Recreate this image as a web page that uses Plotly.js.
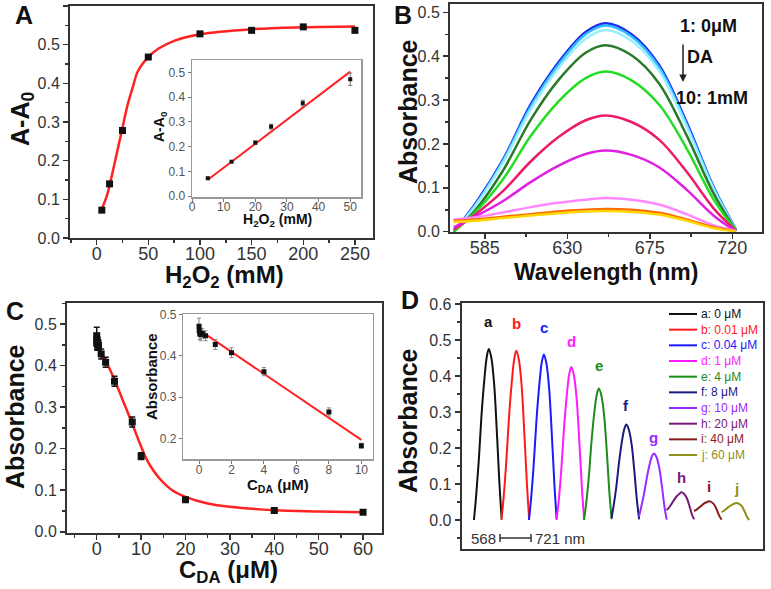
<!DOCTYPE html>
<html>
<head>
<meta charset="utf-8">
<script src="https://cdn.plot.ly/plotly-3.0.1.min.js"></script>
<style>
body{margin:0;background:#fff;}
#plot{width:771px;height:589px;}
</style>
</head>
<body>
<div id="plot"></div>
<script>
// ---- panel A : response vs H2O2 ----
var aX = [5, 12.5, 25, 50, 100, 150, 200, 250];
var aY = [0.072, 0.14, 0.278, 0.468, 0.528, 0.537, 0.546, 0.537];
var aErr = [0.004, 0.004, 0.005, 0.005, 0.004, 0.004, 0.004, 0.004];
var aFitX = [5, 10, 15, 20, 25, 30, 35, 40, 50, 60, 75, 100, 150, 200, 250];
var aFitY = [0.075, 0.11, 0.165, 0.225, 0.285, 0.345, 0.39, 0.432, 0.468, 0.49, 0.51, 0.527, 0.54, 0.545, 0.547];
var aInX = [5, 12.5, 20, 25, 35, 50];
var aInY = [0.072, 0.139, 0.216, 0.281, 0.376, 0.473];
var aInErr = [0.004, 0.004, 0.007, 0.01, 0.012, 0.025];
var aInFitX = [5, 50];
var aInFitY = [0.066, 0.504];

// ---- panel B / D : spectra ----
var wavelengths = [568, 580, 595, 610, 625, 640, 651, 665, 680, 695, 710, 722];
var spectra = [
	[0.0, 0.065, 0.165, 0.29, 0.385, 0.455, 0.475, 0.45, 0.38, 0.25, 0.1, 0.005],
	[0.0, 0.062, 0.162, 0.285, 0.38, 0.45, 0.47, 0.445, 0.375, 0.245, 0.098, 0.004],
	[0.0, 0.06, 0.158, 0.278, 0.372, 0.44, 0.46, 0.435, 0.367, 0.24, 0.095, 0.003],
	[0.0, 0.05, 0.14, 0.255, 0.345, 0.408, 0.425, 0.402, 0.338, 0.22, 0.085, 0.002],
	[0.0, 0.045, 0.12, 0.218, 0.296, 0.35, 0.365, 0.345, 0.29, 0.19, 0.072, 0.002],
	[0.005, 0.04, 0.093, 0.16, 0.215, 0.254, 0.265, 0.25, 0.21, 0.137, 0.052, 0.002],
	[0.01, 0.035, 0.07, 0.113, 0.15, 0.177, 0.185, 0.175, 0.147, 0.096, 0.036, 0.001],
	[0.028, 0.033, 0.044, 0.056, 0.066, 0.073, 0.077, 0.073, 0.062, 0.04, 0.014, 0.002],
	[0.025, 0.028, 0.034, 0.04, 0.046, 0.05, 0.052, 0.05, 0.043, 0.028, 0.01, 0.001],
	[0.022, 0.025, 0.031, 0.037, 0.042, 0.046, 0.047, 0.045, 0.039, 0.025, 0.008, 0.0]
];
var bColors = ['#1a2aee', '#33bbff', '#99eeff', '#2a7a2a', '#22dd22', '#ee1a6a', '#e020e0', '#ff88ff', '#ff6a00', '#ffd700'];
var dLetters = ['a', 'b', 'c', 'd', 'e', 'f', 'g', 'h', 'i', 'j'];
var dConc = ['0 μM', '0.01 μM', '0.04 μM', '1 μM', '4 μM', '8 μM', '10 μM', '20 μM', '40 μM', '60 μM'];
var dColors = ['#111111', '#ff1a1a', '#1a1aff', '#ff1aff', '#1a8c1a', '#1a1a80', '#9a2aff', '#7a1a7a', '#8a1a1a', '#8f8f1a'];

// ---- panel C : absorbance vs DA ----
var cX = [0, 0.01, 0.04, 0.1, 0.2, 0.4, 1, 2, 4, 8, 10, 20, 40, 60];
var cY = [0.472, 0.462, 0.455, 0.452, 0.455, 0.449, 0.428, 0.408, 0.362, 0.264, 0.182, 0.077, 0.051, 0.047];
var cErr = [0.02, 0.015, 0.015, 0.015, 0.012, 0.012, 0.012, 0.012, 0.012, 0.012, 0.008, 0.004, 0.003, 0.003];
var cFitX = [0, 1, 2, 3, 4, 5, 6, 7, 8, 9, 10, 11, 12, 14, 17, 20, 25, 30, 40, 50, 60];
var cFitY = [0.45, 0.432, 0.412, 0.39, 0.366, 0.34, 0.313, 0.287, 0.26, 0.232, 0.205, 0.18, 0.16, 0.13, 0.1, 0.084, 0.068, 0.06, 0.052, 0.049, 0.047];
var cInX = [0, 0.01, 0.04, 0.1, 0.2, 0.4, 1, 2, 4, 8, 10];
var cInY = [0.472, 0.462, 0.455, 0.452, 0.455, 0.449, 0.428, 0.408, 0.362, 0.264, 0.182];
var cInErr = [0.02, 0.015, 0.015, 0.015, 0.012, 0.012, 0.012, 0.012, 0.01, 0.01, 0.006];
var cInFitX = [0, 10];
var cInFitY = [0.4635, 0.196];

var W = 771;
var H = 589;
var FONT = 'Liberation Sans, Arial, sans-serif';

function px(x){ return x / W; }
function py(y){ return 1 - y / H; }

function frameAxis(domain, range, opts){
	var ax = {
		domain: domain,
		range: range,
		showline: true,
		mirror: true,
		linecolor: '#333',
		linewidth: 2,
		ticks: 'outside',
		ticklen: 5,
		tickwidth: 1.5,
		tickcolor: '#333',
		showgrid: false,
		zeroline: false,
		tickfont: {size: 16, color: '#333'}
	};
	for(var k in opts){
		ax[k] = opts[k];
	}
	return ax;
}

function insetAxis(domain, range, opts){
	var ax = frameAxis(domain, range, opts);
	ax.linecolor = '#999';
	ax.linewidth = 1.5;
	ax.tickcolor = '#777';
	ax.ticklen = 3;
	ax.tickwidth = 1;
	ax.tickfont = {size: 12, color: '#555'};
	return ax;
}

var traces = [];

// panel A
traces.push({x: aFitX, y: aFitY, mode: 'lines', line: {color: '#ff2222', width: 2.5, shape: 'spline'}, xaxis: 'x', yaxis: 'y'});
traces.push({x: aX, y: aY, mode: 'markers', marker: {symbol: 'square', size: 7, color: '#111'},
	error_y: {type: 'data', array: aErr, color: '#111', thickness: 1, width: 2}, xaxis: 'x', yaxis: 'y'});
traces.push({x: aInFitX, y: aInFitY, mode: 'lines', line: {color: '#ff2222', width: 2}, xaxis: 'x2', yaxis: 'y2'});
traces.push({x: aInX, y: aInY, mode: 'markers', marker: {symbol: 'square', size: 4, color: '#111'},
	error_y: {type: 'data', array: aInErr, color: '#777', thickness: 1, width: 2}, xaxis: 'x2', yaxis: 'y2'});

// panel B
spectra.forEach((s, i) => {
	traces.push({x: wavelengths, y: s, mode: 'lines', line: {color: bColors[i], width: 2.5, shape: 'spline'}, xaxis: 'x3', yaxis: 'y3'});
});

// panel C
traces.push({x: cFitX, y: cFitY, mode: 'lines', line: {color: '#ff2222', width: 2.5, shape: 'spline'}, xaxis: 'x4', yaxis: 'y4'});
traces.push({x: cX, y: cY, mode: 'markers', marker: {symbol: 'square', size: 7, color: '#111'},
	error_y: {type: 'data', array: cErr, color: '#111', thickness: 1.5, width: 3}, xaxis: 'x4', yaxis: 'y4'});
traces.push({x: cInFitX, y: cInFitY, mode: 'lines', line: {color: '#ff2222', width: 2}, xaxis: 'x5', yaxis: 'y5'});
traces.push({x: cInX, y: cInY, mode: 'markers', marker: {symbol: 'square', size: 5, color: '#111'},
	error_y: {type: 'data', array: cInErr, color: '#888', thickness: 1, width: 2}, xaxis: 'x5', yaxis: 'y5'});

// panel D : same spectra laid end to end
var SEG = 153;
spectra.forEach((s, k) => {
	var xs = wavelengths.map(w => w - wavelengths[0] + k * SEG);
	traces.push({x: xs, y: s, mode: 'lines', line: {color: dColors[k], width: 2, shape: 'spline'}, xaxis: 'x6', yaxis: 'y6'});
});

traces.forEach(t => { t.showlegend = false; t.hoverinfo = 'skip'; });

var annotations = [];
var shapes = [];

function label(text, x, y, size, opts){
	var a = {text: text, x: px(x), y: py(y), xref: 'paper', yref: 'paper', showarrow: false,
		xanchor: 'center', yanchor: 'middle', font: {size: size, color: '#111', family: FONT}};
	for(var k in opts){
		a[k] = opts[k];
	}
	annotations.push(a);
}

// panel letters
label('<b>A</b>', 24, 15, 25);
label('<b>B</b>', 403, 15, 25);
label('<b>C</b>', 15, 311, 25);
label('<b>D</b>', 410, 300, 25);

// axis titles
label('<b>A-A<sub>0</sub></b>', 22, 119, 25, {textangle: -90});
label('<b>H<sub>2</sub>O<sub>2</sub> (mM)</b>', 224, 276, 24);
label('<b>A-A<sub>0</sub></b>', 160, 127, 14, {textangle: -90});
label('<b>H<sub>2</sub>O<sub>2</sub> (mM)</b>', 277, 220, 14);
label('<b>Absorbance</b>', 408, 112, 25, {textangle: -90});
label('<b>Wavelength (nm)</b>', 606, 272, 23);
label('<b>Absorbance</b>', 15, 417, 25, {textangle: -90});
label('<b>C<sub>DA</sub> (μM)</b>', 228, 571, 24);
label('<b>Absorbance</b>', 151, 377, 15, {textangle: -90});
label('<b>C<sub>DA</sub> (μM)</b>', 278, 485, 15);
label('<b>Absorbance</b>', 408, 421, 25, {textangle: -90});

// panel B notes
label('<b>1: 0μM</b>', 708, 26, 18);
label('<b>DA</b>', 700, 57, 18);
label('<b>10: 1mM</b>', 712, 98, 18);
annotations.push({text: ' ', x: px(683), y: py(82), xref: 'paper', yref: 'paper', showarrow: true,
	ax: 0, ay: -46, arrowhead: 2, arrowsize: 1, arrowwidth: 1.5, arrowcolor: '#222', standoff: 0});

// panel D peak letters
spectra.forEach((s, k) => {
	var peak = Math.max.apply(null, s);
	var ip = s.indexOf(peak);
	annotations.push({text: '<b>' + dLetters[k] + '</b>', x: wavelengths[ip] - wavelengths[0] + k * SEG, y: peak,
		xref: 'x6', yref: 'y6', showarrow: false, yanchor: 'bottom', yshift: Math.max(4, 40 * peak - 2),
		font: {size: 15, color: dColors[k], family: FONT}});
});

// panel D legend
dLetters.forEach((l, i) => {
	var y = 314 + i * 15.67;
	shapes.push({type: 'line', xref: 'paper', yref: 'paper', x0: px(669), x1: px(697), y0: py(y), y1: py(y),
		line: {color: dColors[i], width: 2}});
	label(l + ': ' + dConc[i], 699, y, 12, {xanchor: 'left', font: {size: 12, color: dColors[i], family: FONT}});
});

// panel D wavelength scale
label('568', 498, 538, 15, {xanchor: 'right', font: {size: 15, color: '#333', family: FONT}});
label('721 nm', 533, 538, 15, {xanchor: 'left', font: {size: 15, color: '#333', family: FONT}});
shapes.push({type: 'line', xref: 'paper', yref: 'paper', x0: px(500), x1: px(531), y0: py(538), y1: py(538), line: {color: '#333', width: 1.5}});
shapes.push({type: 'line', xref: 'paper', yref: 'paper', x0: px(500), x1: px(500), y0: py(534), y1: py(542), line: {color: '#333', width: 1.5}});
shapes.push({type: 'line', xref: 'paper', yref: 'paper', x0: px(531), x1: px(531), y0: py(534), y1: py(542), line: {color: '#333', width: 1.5}});

var XT = {size: 18, color: '#333'};

var layout = {
	width: W,
	height: H,
	margin: {l: 0, r: 0, t: 0, b: 0},
	paper_bgcolor: '#fff',
	plot_bgcolor: 'rgba(0,0,0,0)',
	font: {family: FONT, color: '#333'},
	showlegend: false,
	xaxis: frameAxis([px(70), px(373)], [-25.8, 267.5], {anchor: 'y', tick0: 0, dtick: 50, tickfont: XT, ticklabelstandoff: -7,
		minor: {ticks: 'outside', ticklen: 3, tick0: 0, dtick: 25, tickcolor: '#333'}}),
	yaxis: frameAxis([py(238), py(6)], [0, 0.6], {anchor: 'x', tick0: 0, dtick: 0.1, tickformat: '.1f',
		minor: {ticks: 'outside', ticklen: 3, tick0: 0, dtick: 0.05, tickcolor: '#333'}}),
	xaxis2: insetAxis([px(192), px(361)], [0, 53.4], {anchor: 'y2', tick0: 0, dtick: 10, ticklabelstandoff: -5}),
	yaxis2: insetAxis([py(197), py(60)], [-0.004, 0.551], {anchor: 'x2', tick0: 0, dtick: 0.1, tickformat: '.1f'}),
	xaxis3: frameAxis([px(450), px(761.7)], [566, 736], {anchor: 'y3', tickvals: [585, 630, 675, 720], tickfont: XT, ticklabelstandoff: -6,
		minor: {ticks: 'outside', ticklen: 3, tick0: 562.5, dtick: 22.5, tickcolor: '#333'}}),
	yaxis3: frameAxis([py(231.7), py(4)], [0, 0.519], {anchor: 'x3', tick0: 0, dtick: 0.1, tickformat: '.1f',
		minor: {ticks: 'outside', ticklen: 3, tick0: 0, dtick: 0.05, tickcolor: '#333'}}),
	xaxis4: frameAxis([px(67), px(381.7)], [-6.7, 64.2], {anchor: 'y4', tick0: 0, dtick: 10, tickfont: XT, ticklabelstandoff: -7,
		minor: {ticks: 'outside', ticklen: 3, tick0: 0, dtick: 5, tickcolor: '#333'}}),
	yaxis4: frameAxis([py(533), py(303)], [-0.003, 0.5506], {anchor: 'x4', tick0: 0, dtick: 0.1, tickformat: '.1f',
		minor: {ticks: 'outside', ticklen: 3, tick0: 0, dtick: 0.05, tickcolor: '#333'}}),
	xaxis5: insetAxis([px(183.3), px(372.7)], [-0.97, 10.7], {anchor: 'y5', tick0: 0, dtick: 2, ticklabelstandoff: -4}),
	yaxis5: insetAxis([py(459.3), py(314)], [0.149, 0.502], {anchor: 'x5', tick0: 0, dtick: 0.1, tickformat: '.1f'}),
	xaxis6: frameAxis([px(461.7), px(762.7)], [-68, 1606], {anchor: 'y6', showticklabels: false, ticks: ''}),
	yaxis6: frameAxis([py(549.3), py(303)], [-0.0814, 0.6028], {anchor: 'x6', tick0: 0, dtick: 0.1, tickformat: '.1f',
		minor: {ticks: 'outside', ticklen: 3, tick0: 0, dtick: 0.05, tickcolor: '#333'}}),
	annotations: annotations,
	shapes: shapes
};

Plotly.newPlot('plot', traces, layout, {staticPlot: true});
</script>
</body>
</html>
